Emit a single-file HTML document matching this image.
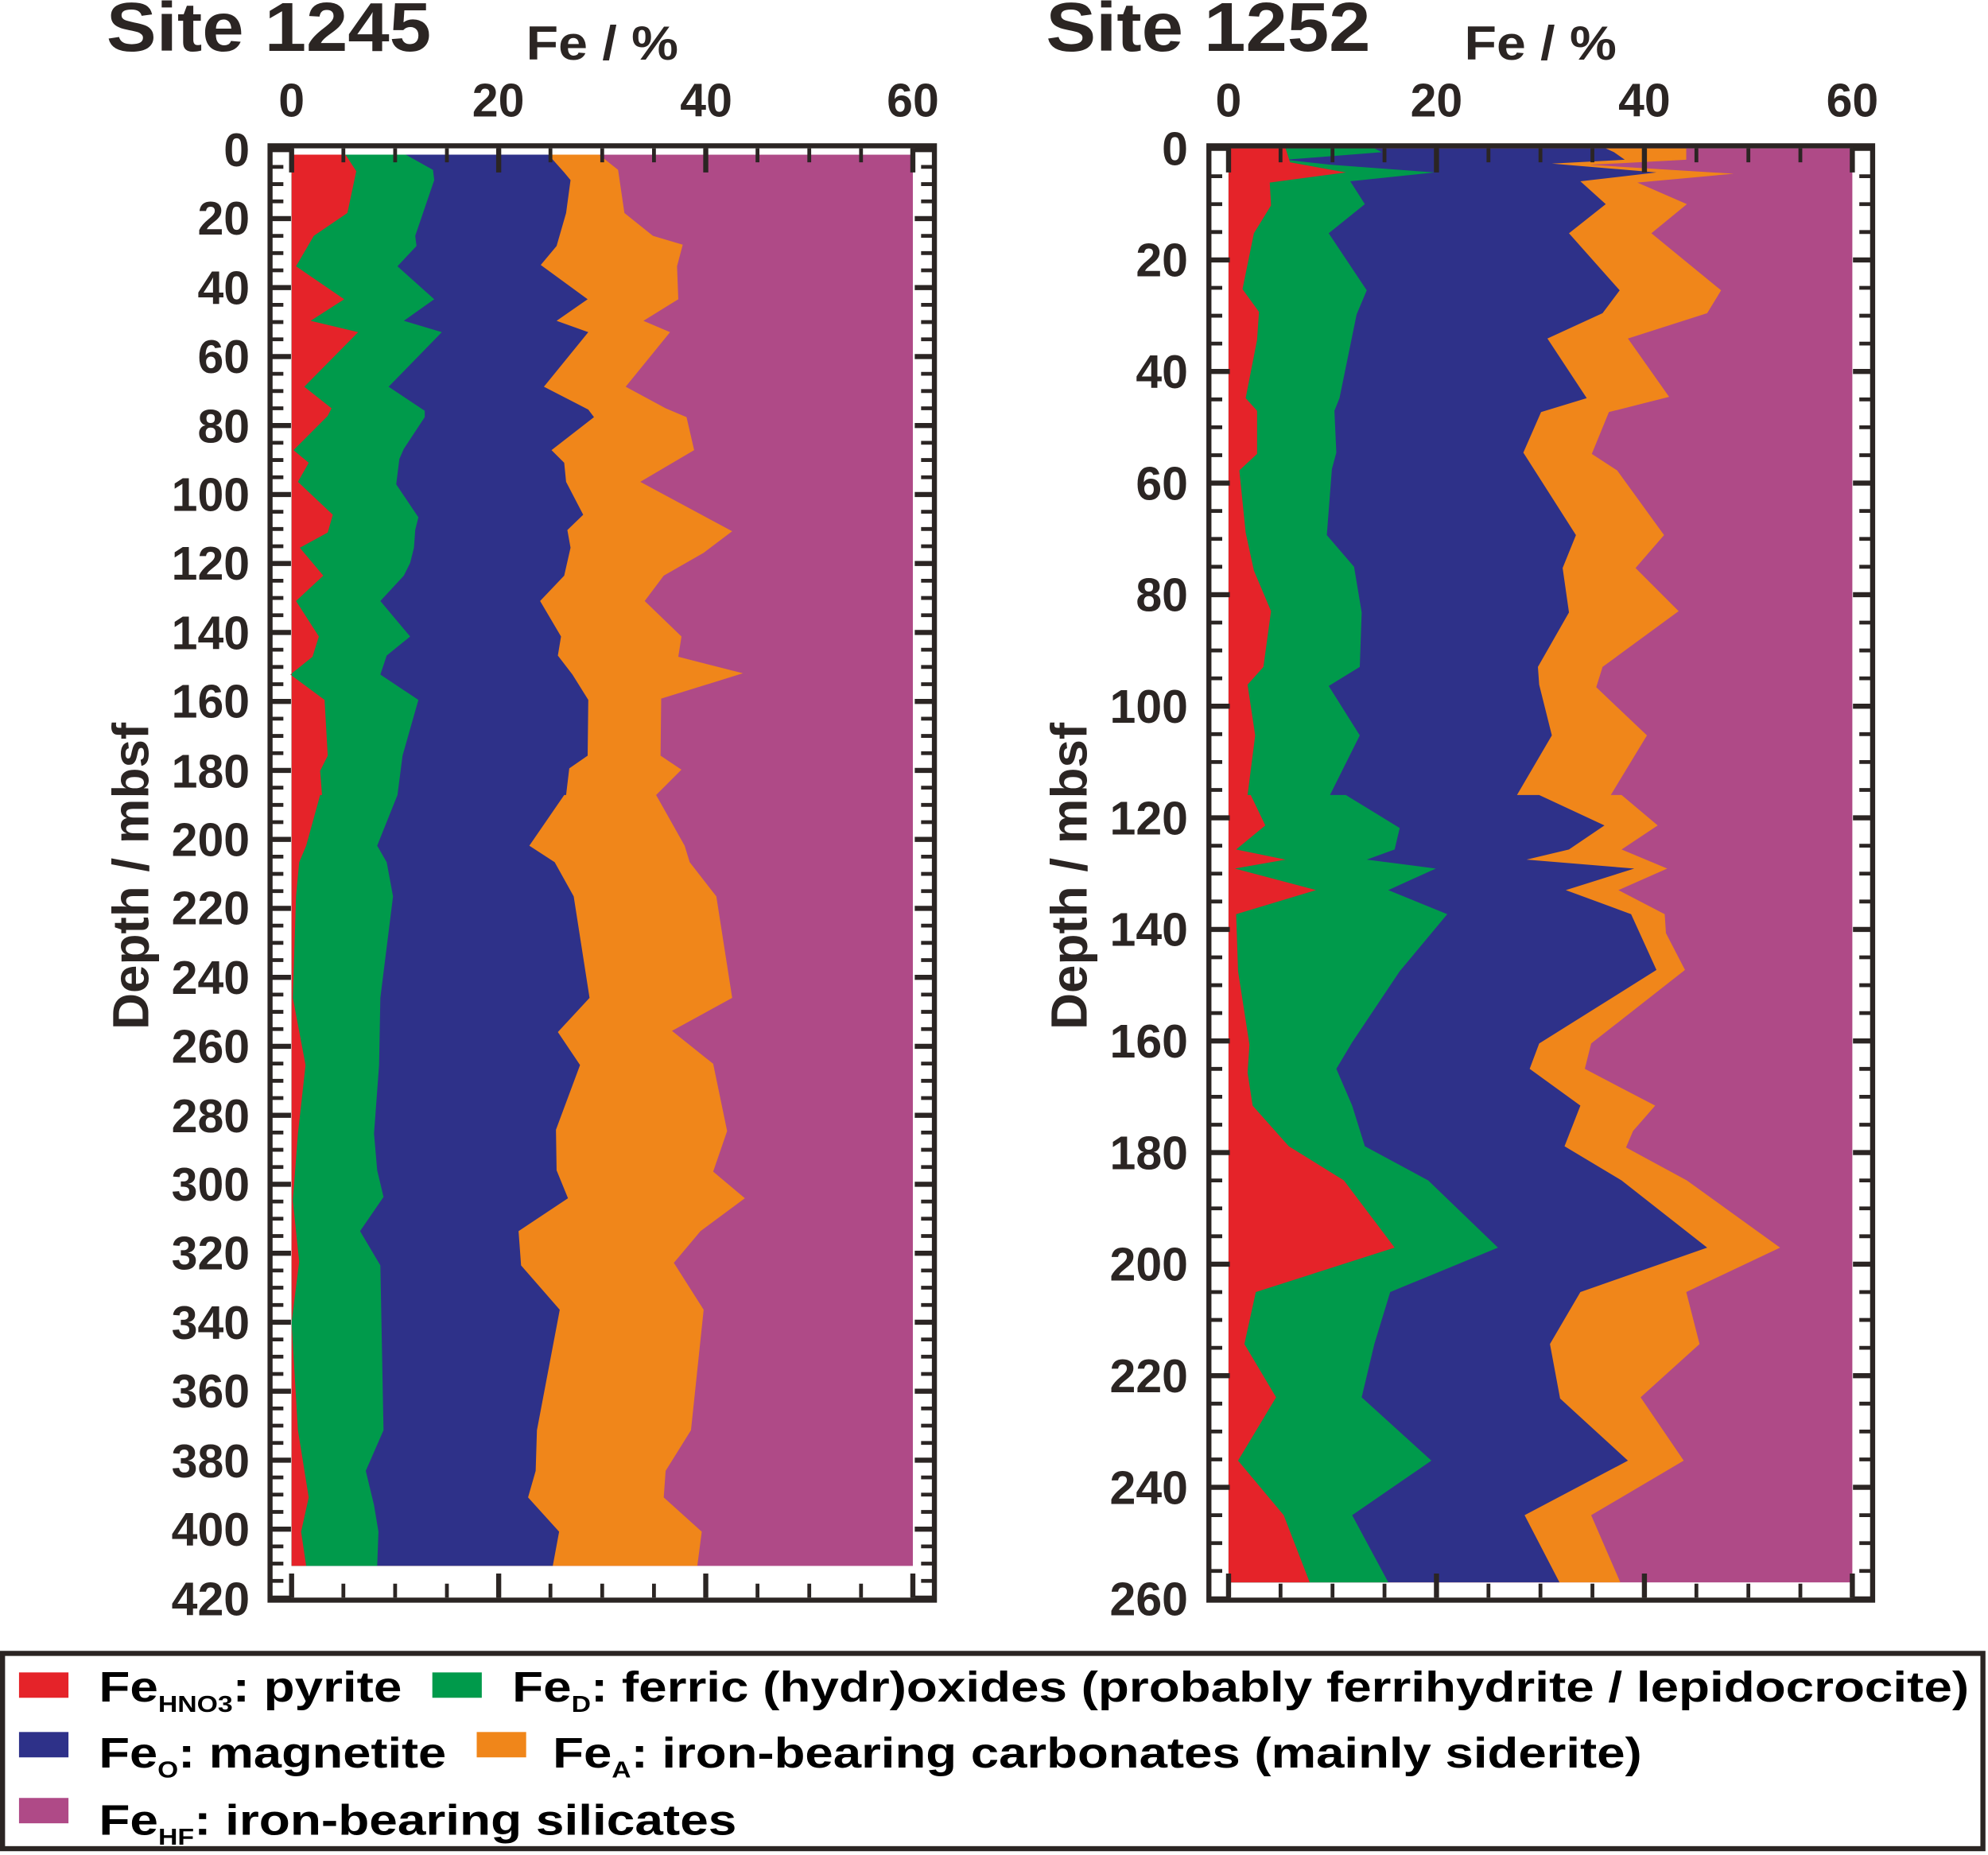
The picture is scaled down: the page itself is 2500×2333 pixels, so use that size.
<!DOCTYPE html>
<html><head><meta charset="utf-8"><style>html,body{margin:0;padding:0;background:#fff}svg{display:block}</style></head>
<body>
<svg xmlns="http://www.w3.org/2000/svg" width="2500" height="2333" viewBox="0 0 1568 1463" preserveAspectRatio="none" font-family="Liberation Sans, Arial, sans-serif" font-weight="bold" fill="#2b2523">
<rect width="1568" height="1463" fill="#fff"/>

<!-- LEFT PANEL fills -->
<rect x="230" y="122" width="490" height="1113" fill="#AF4A87"/>
<polygon fill="#F0861A" points="230,122 472.5,122 487.5,134 492.5,168 515,186 538.5,193 534,210 535,236 507.5,253 528.5,262 493.5,305 525,322 541.5,329 547.5,355 505,380 577.5,419 555,436 523.5,454 508.5,474 537.5,502 535,518 586,531 521.5,551 521,596 537.5,607 517.5,627 540,667 544,680 565,707 577.5,787 530,813 562.5,839 573.5,892 562.5,924 587.5,945 552.5,971 531.5,996 555,1033 545,1128 525,1160 523.5,1181 553.5,1208 550,1235 230,1235"/>
<polygon fill="#2E3189" points="230,122 432.5,122 445,136 450,142 446.5,168 439,194 426.5,209 463.5,236 439,253 464,262 429,305 464,323 468.5,329 435,355 445,365 446.5,380 460,406 447.5,418 450,432 445,454 426,474 442.5,502 440,517 451.5,532 464,552 463.5,596 449,606 446.5,627 445,627 417.5,667 437.5,680 452.5,707 465,787 440,814 457.5,840 438.5,891 439,923 448,945 409,971 411,998 441.5,1033 423.5,1128 422.5,1160 416.5,1181 441,1208 436,1235 230,1235"/>
<polygon fill="#009A4B" points="230,122 320,122 341.5,134 342.5,142 327.5,186 328.5,194 313.5,210 342.5,236 318.5,253 348.5,262 306.5,305 335,324 335,329 318.5,354 315,362 312.5,382 330,408 327.5,418 326.5,432 323.5,444 318.5,454 300,474 323.5,502 305,517 300,532 330,552 317.5,596 313.5,627 297.5,667 305,680 310,707 300,787 299,840 295,894 297.5,923 302.5,944 284,971 300,998 302.5,1128 288.5,1160 295,1187 298.5,1208 297.5,1235 230,1235"/>
<polygon fill="#E52329" points="230,122 272.5,122 281,135 274,168 247.5,186 233.5,210 271.5,236 245,253 282.5,262 240,305 261.5,322 258.5,328 231.5,355 243.5,365 235,380 262.5,406 258.5,420 236.5,432 255,454 233.5,474 251.5,502 246.5,518 229,532 256,552 258.5,596 252.5,608 254,627 252.5,627 241.5,667 236,680 233.5,707 231,787 241,840 235,894 231,947 236,995 230,1043 235,1128 243.5,1181 237.5,1208 241.5,1235 230,1235"/>

<!-- RIGHT PANEL fills -->
<rect x="969" y="117" width="492" height="1131" fill="#AF4A87"/>
<polygon fill="#F0861A" points="969,117 1330,117 1330,126 1254,130 1367.5,137 1291.5,144 1330.5,161 1302.5,184 1357.5,229 1346.5,247 1284,267 1316.5,313 1269,325 1255.5,358 1275.5,371 1312.5,422 1290,448 1324,482 1264,526 1259,542 1299,580 1270.5,627 1279,627 1307.5,651 1279,670 1315,685 1276.5,702 1313,721 1314,736 1329,765 1255,823 1250,843 1305.5,872 1288,892 1282.5,905 1330.5,931 1404,984 1330,1019 1340.5,1060 1294,1102 1328,1152 1255,1195 1278,1248 969,1248"/>
<polygon fill="#2E3189" points="969,117 1266.5,117 1273,120 1281.5,126 1224,129 1306.5,136 1246.5,143 1266.5,161 1237.5,184 1277.5,229 1264,247 1220.5,267 1251.5,314 1215.5,325 1201.5,357 1243,422 1232.5,448 1237.5,483 1213,526 1214,540 1224,580 1196.5,627 1214,627 1265.5,651 1237.5,670 1204,678 1289,685 1235,702 1286.5,721 1306.5,765 1214,823 1206.5,843 1246.5,872 1234,904 1279,931 1346.5,984 1246.5,1019 1222.5,1060 1230.5,1103 1284,1152 1202.5,1195 1230,1248 969,1248"/>
<polygon fill="#009A4B" points="969,117 1084,117 1090,120 1014,126 1050,130 1131.5,136 1065,143 1076.5,161 1048,184 1078,229 1070,248 1056.5,314 1052.5,324 1054,357 1050.5,370 1046.5,422 1068,447 1074,483 1072.5,526 1048,541 1072.5,580 1049,627 1061.5,627 1104,653 1100,670 1078,678 1132.5,685 1095,702 1141.5,721 1104,766 1066.5,822 1054,843 1066.5,872 1076.5,904 1126.5,931 1181.5,984 1096.5,1019 1084,1060 1074,1102 1129,1152 1066.5,1195 1095,1248 969,1248"/>
<polygon fill="#E52329" points="969,117 1014,117 1017.5,128 1061.5,136 1001.5,144 1002.5,162 989,184 980,228 993,246 991.5,268 982.5,314 991.5,324 991.5,358 977.5,371 982.5,420 989,450 1002.5,482 996.5,526 984,540 990,580 984,627 986.5,627 998,651 975,670 1014,678 974,685 1038,702 975,721 976.5,766 985.5,824 984,846 988,872 1016.5,904 1060,931 1100,984 990.5,1019 981.5,1060 1006.5,1102 976.5,1152 1012.5,1195 1033,1248 969,1248"/>

<!-- LEFT frame & ticks -->
<g stroke="#2b2523" fill="none">
<rect x="213" y="115" width="524" height="1147" stroke-width="4"/>
<line x1="219" y1="116.5" x2="219" y2="1262" stroke-width="9" stroke-dasharray="3 10.6"/>
<line x1="222" y1="116" x2="222" y2="1262" stroke-width="15" stroke-dasharray="4 50.4"/>
<line x1="731" y1="116.5" x2="731" y2="1262" stroke-width="9" stroke-dasharray="3 10.6"/>
<line x1="729" y1="116" x2="729" y2="1262" stroke-width="15" stroke-dasharray="4 50.4"/>
<line x1="228.5" y1="122.5" x2="724" y2="122.5" stroke-width="11" stroke-dasharray="3 37.83"/>
<line x1="228" y1="126.5" x2="724" y2="126.5" stroke-width="19" stroke-dasharray="4 159.33"/>
<line x1="228.5" y1="1254.5" x2="724" y2="1254.5" stroke-width="11" stroke-dasharray="3 37.83"/>
<line x1="228" y1="1250.5" x2="724" y2="1250.5" stroke-width="19" stroke-dasharray="4 159.33"/>
</g>
<!-- RIGHT frame & ticks -->
<g stroke="#2b2523" fill="none">
<rect x="953.5" y="115" width="523.5" height="1147" stroke-width="4"/>
<line x1="959.5" y1="115.5" x2="959.5" y2="1262" stroke-width="9" stroke-dasharray="3 19"/>
<line x1="962.5" y1="115" x2="962.5" y2="1262" stroke-width="15" stroke-dasharray="4 84"/>
<line x1="1471" y1="115.5" x2="1471" y2="1262" stroke-width="9" stroke-dasharray="3 19"/>
<line x1="1469" y1="115" x2="1469" y2="1262" stroke-width="15" stroke-dasharray="4 84"/>
<line x1="967.5" y1="122.5" x2="1465" y2="122.5" stroke-width="11" stroke-dasharray="3 38"/>
<line x1="967" y1="126.5" x2="1465" y2="126.5" stroke-width="19" stroke-dasharray="4 160"/>
<line x1="967.5" y1="1254.5" x2="1465" y2="1254.5" stroke-width="11" stroke-dasharray="3 38"/>
<line x1="967" y1="1250.5" x2="1465" y2="1250.5" stroke-width="19" stroke-dasharray="4 160"/>
</g>

<!-- Titles -->
<text x="84" y="40" font-size="55" textLength="256" lengthAdjust="spacingAndGlyphs">Site 1245</text>
<text x="415" y="47" font-size="38" textLength="120" lengthAdjust="spacingAndGlyphs">Fe / %</text>
<text x="825" y="40" font-size="55" textLength="256" lengthAdjust="spacingAndGlyphs">Site 1252</text>
<text x="1155" y="47" font-size="38" textLength="120" lengthAdjust="spacingAndGlyphs">Fe / %</text>
<text transform="translate(117,691) rotate(-90)" text-anchor="middle" font-size="40">Depth / mbsf</text>
<text transform="translate(857,691) rotate(-90)" text-anchor="middle" font-size="40">Depth / mbsf</text>

<!-- Top tick labels -->
<g font-size="37" text-anchor="middle">
<text x="230" y="92">0</text><text x="393" y="92">20</text><text x="557" y="92">40</text><text x="720" y="92">60</text>
<text x="969" y="92">0</text><text x="1133" y="92">20</text><text x="1297" y="92">40</text><text x="1461" y="92">60</text>
</g>
<!-- Left depth labels -->
<g font-size="37" text-anchor="end">
<text x="197" y="131">0</text><text x="197" y="185">20</text><text x="197" y="240">40</text><text x="197" y="294">60</text><text x="197" y="349">80</text><text x="197" y="403">100</text><text x="197" y="457">120</text><text x="197" y="512">140</text><text x="197" y="566">160</text><text x="197" y="621">180</text><text x="197" y="675">200</text><text x="197" y="729">220</text><text x="197" y="784">240</text><text x="197" y="838">260</text><text x="197" y="893">280</text><text x="197" y="947">300</text><text x="197" y="1001">320</text><text x="197" y="1056">340</text><text x="197" y="1110">360</text><text x="197" y="1165">380</text><text x="197" y="1219">400</text><text x="197" y="1274">420</text>
</g>
<!-- Right depth labels -->
<g font-size="37" text-anchor="end">
<text x="937" y="130">0</text><text x="937" y="218">20</text><text x="937" y="306">40</text><text x="937" y="394">60</text><text x="937" y="482">80</text><text x="937" y="570">100</text><text x="937" y="658">120</text><text x="937" y="746">140</text><text x="937" y="834">160</text><text x="937" y="922">180</text><text x="937" y="1010">200</text><text x="937" y="1098">220</text><text x="937" y="1186">240</text><text x="937" y="1274">260</text>
</g>

<!-- Legend -->
<rect x="2" y="1304" width="1562" height="154" fill="none" stroke="#2b2523" stroke-width="4"/>
<rect x="15" y="1319" width="39" height="20" fill="#E52329"/>
<rect x="341" y="1319" width="39" height="20" fill="#009A4B"/>
<rect x="15" y="1366" width="39" height="20" fill="#2E3189"/>
<rect x="376" y="1366" width="39" height="20" fill="#F0861A"/>
<rect x="15" y="1418" width="39" height="20" fill="#AF4A87"/>
<g fill="#000" font-size="34">
<text x="78" y="1342" textLength="239" lengthAdjust="spacingAndGlyphs">Fe<tspan font-size="18" dy="8">HNO3</tspan><tspan dy="-8">: pyrite</tspan></text>
<text x="404" y="1342" textLength="1149" lengthAdjust="spacingAndGlyphs">Fe<tspan font-size="18" dy="8">D</tspan><tspan dy="-8">: ferric (hydr)oxides (probably ferrihydrite / lepidocrocite)</tspan></text>
<text x="78" y="1394" textLength="274" lengthAdjust="spacingAndGlyphs">Fe<tspan font-size="18" dy="8">O</tspan><tspan dy="-8">: magnetite</tspan></text>
<text x="436" y="1394" textLength="859" lengthAdjust="spacingAndGlyphs">Fe<tspan font-size="18" dy="8">A</tspan><tspan dy="-8">: iron-bearing carbonates (mainly siderite)</tspan></text>
<text x="78" y="1447" textLength="503" lengthAdjust="spacingAndGlyphs">Fe<tspan font-size="18" dy="8">HF</tspan><tspan dy="-8">: iron-bearing silicates</tspan></text>
</g>
</svg>
</body></html>
